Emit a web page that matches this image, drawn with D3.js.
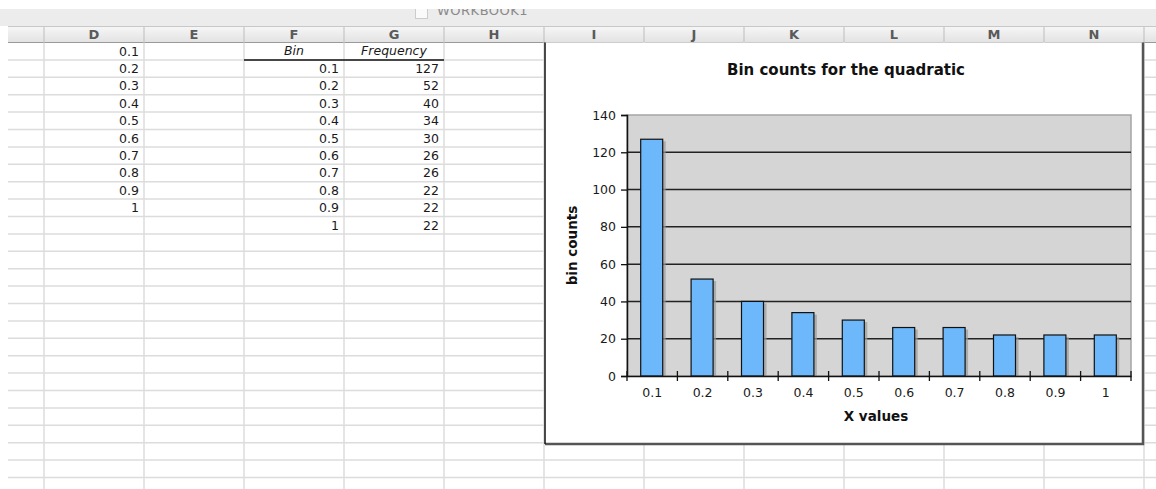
<!DOCTYPE html>
<html>
<head>
<meta charset="utf-8">
<script src="https://cdn.jsdelivr.net/npm/d3@7"></script>
<style>
  body { margin: 0; background: #fff; }
  svg { display: block; font-family: "DejaVu Sans", Verdana, sans-serif; }
</style>
</head>
<body>
<svg width="1156" height="489"></svg>
<script>
// sheet columns shown
var colLetters = ["D", "E", "F", "G", "H", "I", "J", "K", "L", "M", "N"];
// column D values
var colD = [0.1, 0.2, 0.3, 0.4, 0.5, 0.6, 0.7, 0.8, 0.9, 1];
// histogram table
var bins = ["0.1", "0.2", "0.3", "0.4", "0.5", "0.6", "0.7", "0.8", "0.9", "1"];
var freq = [127, 52, 40, 34, 30, 26, 26, 22, 22, 22];
var yTicks = [0, 20, 40, 60, 80, 100, 120, 140];

var svg = d3.select("svg"),
    width = +svg.attr("width"),
    height = +svg.attr("height");

var rowTop = 42.5, rowH = 17.4, colW = 100, colLeft = 44;
var colX = d3.scaleBand().domain(colLetters).range([colLeft, colLeft + colW*colLetters.length]);
var rowY = function(i) { return rowTop + i*rowH; };

// title bar
svg.append("rect").attr("x", 0).attr("y", 9).attr("width", width).attr("height", 17).attr("fill", "#ececec");
svg.append("clipPath").attr("id", "tb").append("rect").attr("x", 0).attr("y", 9).attr("width", width).attr("height", 17);
svg.append("rect").attr("x", 415.5).attr("y", 6.5).attr("width", 12).attr("height", 12)
    .attr("fill", "#fafafa").attr("stroke", "#ccc").attr("clip-path", "url(#tb)");
svg.append("text").attr("x", 437).attr("y", 15).attr("font-size", 13).attr("fill", "#8a8a8a")
    .attr("clip-path", "url(#tb)").attr("letter-spacing", 0.5).text("WORKBOOK1");

// column header
var grad = svg.append("defs").append("linearGradient").attr("id", "hdr").attr("x1", 0).attr("x2", 0).attr("y1", 0).attr("y2", 1);
grad.append("stop").attr("offset", "0%").attr("stop-color", "#f7f7f7");
grad.append("stop").attr("offset", "100%").attr("stop-color", "#e2e2e2");
svg.append("rect").attr("x", 8).attr("y", 26).attr("width", width - 8).attr("height", 16.5).attr("fill", "url(#hdr)");
svg.append("line").attr("x1", 8).attr("x2", width).attr("y1", 26.5).attr("y2", 26.5).attr("stroke", "#c8c8c8");
svg.append("line").attr("x1", 8).attr("x2", width).attr("y1", 42.5).attr("y2", 42.5).attr("stroke", "#9a9a9a");

// grid
var nRows = 26;
svg.append("g").selectAll("line").data(d3.range(1, nRows)).enter().append("line")
    .attr("x1", 8).attr("x2", width)
    .attr("y1", rowY).attr("y2", rowY)
    .attr("stroke", "#dcdcdc").attr("stroke-width", 1.5);
var vlines = colLetters.map(function(c) { return colX(c); }).concat([colX("N") + colW]);
svg.append("g").selectAll("line").data(vlines).enter().append("line")
    .attr("x1", function(d) { return d; }).attr("x2", function(d) { return d; })
    .attr("y1", rowTop).attr("y2", height)
    .attr("stroke", "#dcdcdc").attr("stroke-width", 1.5);
svg.append("g").selectAll("line").data(vlines).enter().append("line")
    .attr("x1", function(d) { return d; }).attr("x2", function(d) { return d; })
    .attr("y1", 27).attr("y2", 42)
    .attr("stroke", "#bdbdbd");
svg.append("g").selectAll("text").data(colLetters).enter().append("text")
    .attr("x", function(d) { return colX(d) + colW/2; }).attr("y", 39)
    .attr("text-anchor", "middle").attr("font-size", 13).attr("font-weight", "bold").attr("fill", "#5a5a5a")
    .text(function(d) { return d; });

// cell text
var cells = svg.append("g").attr("font-size", 12.5).attr("fill", "#1a1a1a");
cells.selectAll(".cd").data(colD).enter().append("text")
    .attr("x", colX("D") + colW - 5).attr("y", function(d, i) { return rowY(i) + 13; })
    .attr("text-anchor", "end").text(function(d) { return d; });
cells.append("text").attr("x", colX("F") + colW/2).attr("y", rowY(0) + 12)
    .attr("text-anchor", "middle").attr("font-style", "italic").attr("font-size", 12.5).text("Bin");
cells.append("text").attr("x", colX("G") + colW/2).attr("y", rowY(0) + 12)
    .attr("text-anchor", "middle").attr("font-style", "italic").attr("font-size", 12.5).text("Frequency");
svg.append("line").attr("x1", colX("F")).attr("x2", colX("G") + colW)
    .attr("y1", rowY(1)).attr("y2", rowY(1)).attr("stroke", "#111").attr("stroke-width", 1.5);
cells.selectAll(".cf").data(bins).enter().append("text")
    .attr("x", colX("F") + colW - 5).attr("y", function(d, i) { return rowY(i+1) + 13; })
    .attr("text-anchor", "end").text(function(d) { return d; });
cells.selectAll(".cg").data(freq).enter().append("text")
    .attr("x", colX("G") + colW - 5).attr("y", function(d, i) { return rowY(i+1) + 13; })
    .attr("text-anchor", "end").text(function(d) { return d; });

// chart object
var cL = 545, cT = 42.5, cR = 1143, cB = 444;
svg.append("rect").attr("x", cL).attr("y", cT).attr("width", cR - cL).attr("height", cB - cT).attr("fill", "#fff");
svg.append("path").attr("d", "M" + cR + "," + cT + "V" + cB + "H" + cL)
    .attr("fill", "none").attr("stroke", "#555").attr("stroke-width", 2.5);
svg.append("path").attr("d", "M" + cL + "," + cB + "V" + cT)
    .attr("fill", "none").attr("stroke", "#111").attr("stroke-width", 1.5);

var pL = 627, pR = 1131, pT = 115, pB = 376;
var x = d3.scaleBand().domain(bins).range([pL, pR]);
var y = d3.scaleLinear().domain([0, 140]).range([pB, pT]);

svg.append("rect").attr("x", pL).attr("y", pT).attr("width", pR - pL).attr("height", pB - pT)
    .attr("fill", "#d5d5d5").attr("stroke", "#a5a5a5").attr("stroke-width", 1.5);

svg.append("g").selectAll("line").data(yTicks.filter(function(t) { return t > 0 && t < 140; })).enter().append("line")
    .attr("x1", pL).attr("x2", pR)
    .attr("y1", function(d) { return y(d); }).attr("y2", function(d) { return y(d); })
    .attr("stroke", "#222").attr("stroke-width", 1.5);

var bw = 22, off = (x.bandwidth() - bw)/2 - 0.5;
var data = bins.map(function(b, i) { return {bin: b, value: freq[i]}; });
svg.append("g").selectAll("rect").data(data).enter().append("rect")
    .attr("x", function(d) { return x(d.bin) + off + 3; })
    .attr("y", function(d) { return y(d.value) + 2; })
    .attr("width", bw).attr("height", function(d) { return pB - y(d.value) - 2; })
    .attr("fill", "#9a9a9a").attr("opacity", 0.7);
svg.append("g").selectAll("rect").data(data).enter().append("rect")
    .attr("x", function(d) { return x(d.bin) + off; })
    .attr("y", function(d) { return y(d.value); })
    .attr("width", bw).attr("height", function(d) { return pB - y(d.value); })
    .attr("fill", "#6db8fb").attr("stroke", "#111").attr("stroke-width", 1.2);

// axes
var yAxis = svg.append("g").attr("transform", "translate(" + pL + ",0)")
    .call(d3.axisLeft(y).tickValues(yTicks).tickSize(6).tickPadding(5));
yAxis.select(".domain").attr("stroke", "#111").attr("stroke-width", 1.5);
yAxis.selectAll(".tick line").attr("stroke", "#111").attr("stroke-width", 1.3);
yAxis.selectAll("text").attr("font-size", 12.5).attr("fill", "#1a1a1a").attr("font-family", "DejaVu Sans");

var xAxis = svg.append("g").attr("transform", "translate(0," + pB + ")")
    .call(d3.axisBottom(x).tickSize(0).tickPadding(12));
xAxis.select(".domain").attr("stroke", "#111").attr("stroke-width", 1.5);
xAxis.selectAll("text").attr("font-size", 12.5).attr("fill", "#1a1a1a").attr("font-family", "DejaVu Sans");
var bounds = bins.map(function(b) { return x(b); }).concat([pR]);
xAxis.selectAll(".bt").data(bounds).enter().append("line")
    .attr("x1", function(d) { return d; }).attr("x2", function(d) { return d; })
    .attr("y1", -5).attr("y2", 5).attr("stroke", "#111").attr("stroke-width", 1.3);

svg.append("text").attr("x", (cL + cR)/2 + 2).attr("y", 75).attr("text-anchor", "middle")
    .attr("font-size", 15).attr("font-weight", "bold").attr("fill", "#111")
    .text("Bin counts for the quadratic");
svg.append("text").attr("x", (pL + pR)/2 - 3).attr("y", 421).attr("text-anchor", "middle")
    .attr("font-size", 13.5).attr("font-weight", "bold").attr("fill", "#111")
    .text("X values");
svg.append("text").attr("transform", "translate(577," + (pT + pB)/2 + ") rotate(-90)")
    .attr("text-anchor", "middle")
    .attr("font-size", 13.5).attr("font-weight", "bold").attr("fill", "#111")
    .text("bin counts");
</script>
</body>
</html>
